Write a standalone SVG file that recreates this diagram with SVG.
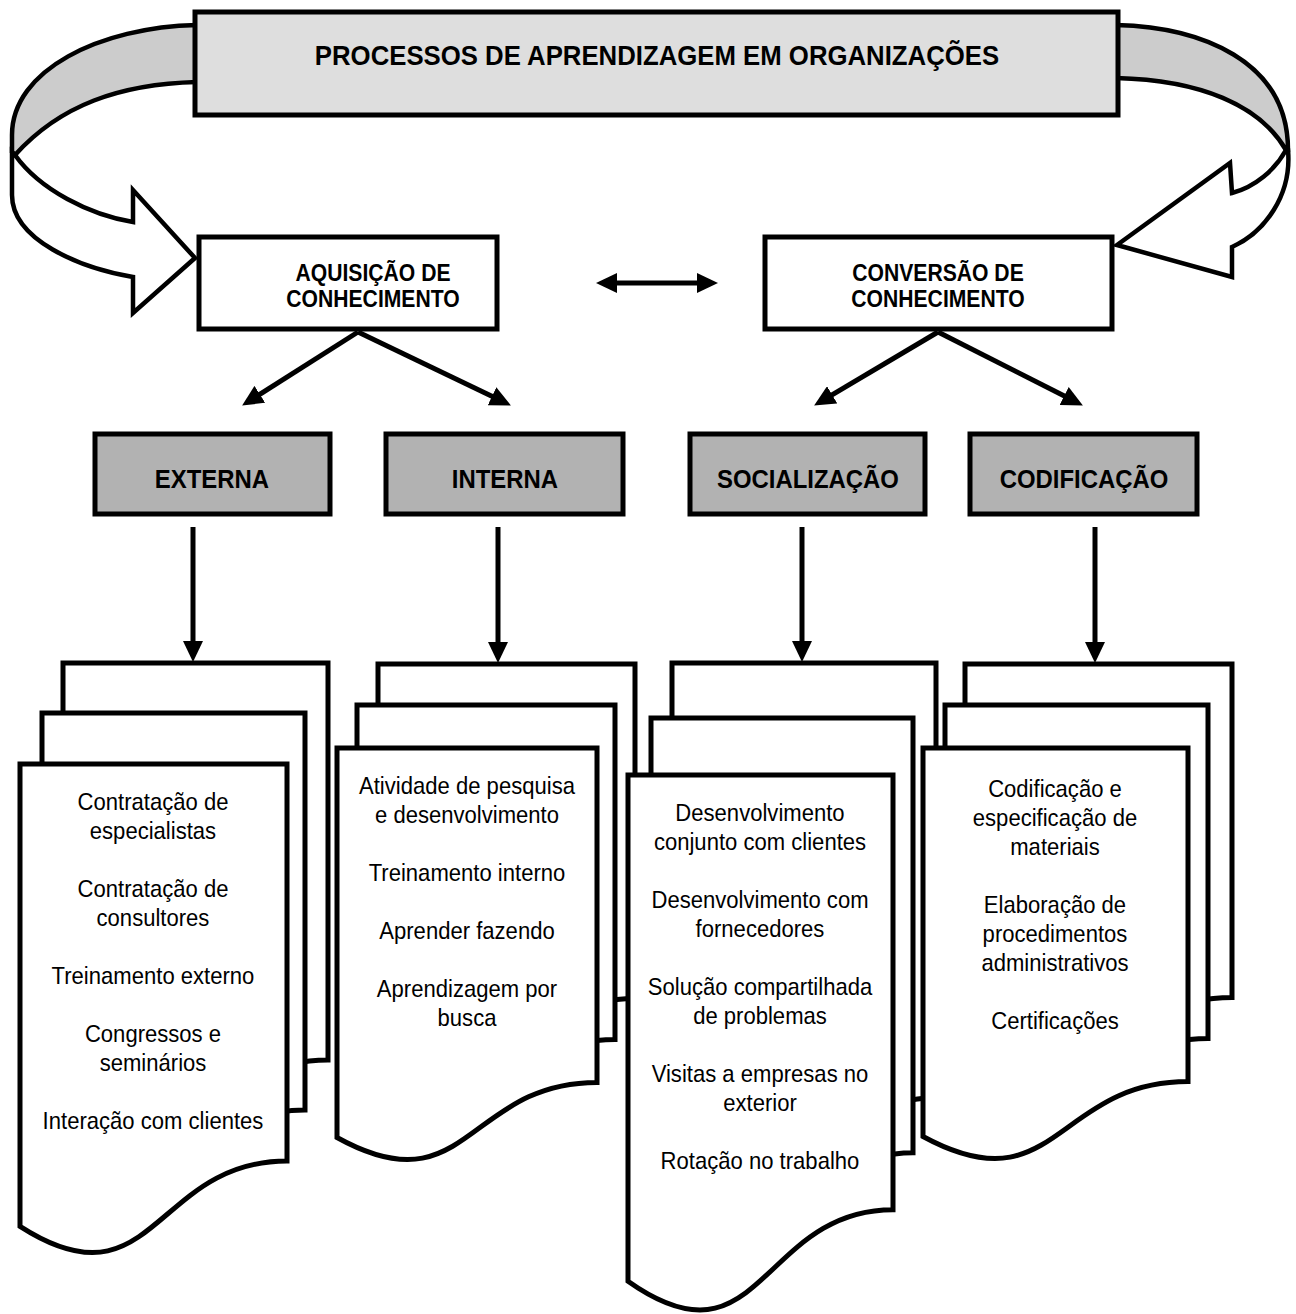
<svg xmlns="http://www.w3.org/2000/svg" width="1296" height="1314" viewBox="0 0 1296 1314">
<style>
.box{stroke:#000;stroke-width:5;stroke-linejoin:miter}
.page{fill:#fff;stroke:#000;stroke-width:5;stroke-linejoin:miter}
.band{stroke:#000;stroke-width:4.5;stroke-linejoin:miter}
.conn{stroke:#000;stroke-width:5;fill:none}
.t{font-family:"Liberation Sans",Arial,sans-serif;text-anchor:middle;fill:#000}
.b{font-weight:bold}
.body{font-size:24px}
.node{font-size:23px}
.cat{font-size:26px}
</style>
<defs>
<marker id="ah" markerUnits="userSpaceOnUse" markerWidth="22" markerHeight="20" refX="8" refY="10" orient="auto-start-reverse">
<path d="M0,0 L21,10 L0,20 Z" fill="#000"/>
</marker>
</defs>

<g id="loop-left">
<path class="band" fill="#cccccc" d="M197,25 C100,27 12,70 12,135 L12,152 L15,155 C60,105 120,84 197,82 Z"/>
<path class="band" fill="#ffffff" d="M15,155 C40,190 90,215 133,222 L133,190 L195,258 L133,313 L133,277 C80,268 12,240 12,195 L12,152 Z"/>
</g>
<g id="loop-right">
<path class="band" fill="#cccccc" d="M1116,25 C1200,27 1288,60 1288,150 L1286,150 C1260,105 1200,80 1116,78 Z"/>
<path class="band" fill="#ffffff" d="M1286,150 C1275,170 1255,187 1232,193 L1230,163 L1117,245 L1232,277 L1232,247 C1265,232 1292,195 1288,150 Z"/>
</g>

<g id="title">
<rect class="box" x="195" y="12" width="923" height="103" fill="#dedede"/>
<text class="t b" x="657" y="65" font-size="28" transform="matrix(0.92 0 0 1 52.56 0)">PROCESSOS DE APRENDIZAGEM EM ORGANIZAÇÕES</text>
</g>

<g id="aquisicao">
<rect class="box" x="199" y="237" width="298" height="92" fill="#fff"/>
<g transform="matrix(0.92 0 0 1 29.84 0)">
<text class="t b node" x="373" y="281">AQUISIÇÃO DE</text>
<text class="t b node" x="373" y="307">CONHECIMENTO</text>
</g>
</g>

<g id="conversao">
<rect class="box" x="765" y="237" width="347" height="92" fill="#fff"/>
<g transform="matrix(0.92 0 0 1 75.04 0)">
<text class="t b node" x="938" y="281">CONVERSÃO DE</text>
<text class="t b node" x="938" y="307">CONHECIMENTO</text>
</g>
</g>

<g id="externa">
<rect class="box" x="95" y="434" width="235" height="80" fill="#b2b2b2"/>
<text class="t b cat" x="212" y="488" transform="matrix(0.92 0 0 1 16.96 0)">EXTERNA</text>
</g>
<g id="interna">
<rect class="box" x="386" y="434" width="237" height="80" fill="#b2b2b2"/>
<text class="t b cat" x="505" y="488" transform="matrix(0.92 0 0 1 40.4 0)">INTERNA</text>
</g>
<g id="socializacao">
<rect class="box" x="690" y="434" width="235" height="80" fill="#b2b2b2"/>
<text class="t b cat" x="808" y="488" transform="matrix(0.92 0 0 1 64.64 0)">SOCIALIZAÇÃO</text>
</g>
<g id="codificacao">
<rect class="box" x="970" y="434" width="227" height="80" fill="#b2b2b2"/>
<text class="t b cat" x="1084" y="488" transform="matrix(0.92 0 0 1 86.72 0)">CODIFICAÇÃO</text>
</g>

<g id="connectors">
<line class="conn" x1="609" y1="283" x2="705" y2="283" marker-start="url(#ah)" marker-end="url(#ah)"/>
<line class="conn" x1="358" y1="332" x2="253.1" y2="398.6" marker-end="url(#ah)"/>
<line class="conn" x1="358" y1="332" x2="499.2" y2="399.8" marker-end="url(#ah)"/>
<line class="conn" x1="938" y1="332" x2="825.3" y2="398.9" marker-end="url(#ah)"/>
<line class="conn" x1="938" y1="332" x2="1071.3" y2="399.6" marker-end="url(#ah)"/>
<line class="conn" x1="193" y1="527" x2="193" y2="649" marker-end="url(#ah)"/>
<line class="conn" x1="498" y1="527" x2="498" y2="650" marker-end="url(#ah)"/>
<line class="conn" x1="802" y1="527" x2="802" y2="649" marker-end="url(#ah)"/>
<line class="conn" x1="1095" y1="527" x2="1095" y2="650" marker-end="url(#ah)"/>
</g>

<g id="stack-externa">
<path class="page" d="M63,663 H328 V1060 C195.5,1060 195.5,1211 63,1125.3 Z"/>
<path class="page" d="M42,713 H305 V1110 C173.5,1110 173.5,1261 42,1175.3 Z"/>
<path class="page" d="M20,764 H287 V1161 C153.5,1161 153.5,1312 20,1226.3 Z"/>
<g transform="matrix(0.92 0 0 1 12.24 0)">
<text class="t body" x="153" y="810">Contratação de</text>
<text class="t body" x="153" y="839">especialistas</text>
<text class="t body" x="153" y="897">Contratação de</text>
<text class="t body" x="153" y="926">consultores</text>
<text class="t body" x="153" y="984">Treinamento externo</text>
<text class="t body" x="153" y="1042">Congressos e</text>
<text class="t body" x="153" y="1071">seminários</text>
<text class="t body" x="153" y="1129">Interação com clientes</text>
</g>
</g>

<g id="stack-interna">
<path class="page" d="M378,664 H635 V998.4 C506.5,998.4 506.5,1125.6 378,1053.5 Z"/>
<path class="page" d="M357,705 H615 V1039.4 C486,1039.4 486,1166.6 357,1094.5 Z"/>
<path class="page" d="M337,748 H597 V1082.4 C467,1082.4 467,1209.6 337,1137.5 Z"/>
<g transform="matrix(0.92 0 0 1 37.36 0)">
<text class="t body" x="467" y="794">Atividade de pesquisa</text>
<text class="t body" x="467" y="823">e desenvolvimento</text>
<text class="t body" x="467" y="881">Treinamento interno</text>
<text class="t body" x="467" y="939">Aprender fazendo</text>
<text class="t body" x="467" y="997">Aprendizagem por</text>
<text class="t body" x="467" y="1026">busca</text>
</g>
</g>

<g id="stack-socializacao">
<path class="page" d="M672,663 H936 V1097.7 C804,1097.7 804,1263 672,1169.2 Z"/>
<path class="page" d="M651,718 H913 V1152.7 C782,1152.7 782,1318 651,1224.2 Z"/>
<path class="page" d="M628,775 H893 V1209.7 C760.5,1209.7 760.5,1375 628,1281.2 Z"/>
<g transform="matrix(0.92 0 0 1 60.8 0)">
<text class="t body" x="760" y="821">Desenvolvimento</text>
<text class="t body" x="760" y="850">conjunto com clientes</text>
<text class="t body" x="760" y="908">Desenvolvimento com</text>
<text class="t body" x="760" y="937">fornecedores</text>
<text class="t body" x="760" y="995">Solução compartilhada</text>
<text class="t body" x="760" y="1024">de problemas</text>
<text class="t body" x="760" y="1082">Visitas a empresas no</text>
<text class="t body" x="760" y="1111">exterior</text>
<text class="t body" x="760" y="1169">Rotação no trabalho</text>
</g>
</g>

<g id="stack-codificacao">
<path class="page" d="M965,664 H1232 V997.6 C1098.5,997.6 1098.5,1124.5 965,1052.5 Z"/>
<path class="page" d="M945,705 H1208 V1038.6 C1076.5,1038.6 1076.5,1165.5 945,1093.5 Z"/>
<path class="page" d="M923,748 H1188 V1081.6 C1055.5,1081.6 1055.5,1208.5 923,1136.5 Z"/>
<g transform="matrix(0.92 0 0 1 84.4 0)">
<text class="t body" x="1055" y="797">Codificação e</text>
<text class="t body" x="1055" y="826">especificação de</text>
<text class="t body" x="1055" y="855">materiais</text>
<text class="t body" x="1055" y="913">Elaboração de</text>
<text class="t body" x="1055" y="942">procedimentos</text>
<text class="t body" x="1055" y="971">administrativos</text>
<text class="t body" x="1055" y="1029">Certificações</text>
</g>
</g>
</svg>
